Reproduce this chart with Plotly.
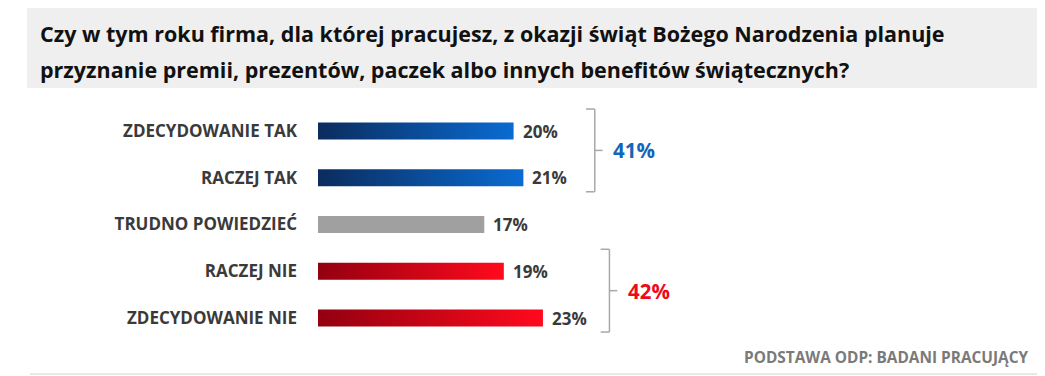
import plotly.graph_objects as go

categories = ["ZDECYDOWANIE TAK", "RACZEJ TAK", "TRUDNO POWIEDZIEĆ", "RACZEJ NIE", "ZDECYDOWANIE NIE"]
values = [20, 21, 17, 19, 23]
value_labels = ["20%", "21%", "17%", "19%", "23%"]
group_labels = ["41%", "42%"]
group_members = [[0, 1], [3, 4]]

title_lines = ["Czy w tym roku firma, dla której pracujesz, z okazji świąt Bożego Narodzenia planuje",
               "przyznanie premii, prezentów, paczek albo innych benefitów świątecznych?"]
footer_text = "PODSTAWA ODP: BADANI PRACUJĄCY"

bar_styles = [
    ("#0b2c5e", "#0a6bd2"),
    ("#0b2c5e", "#0a6bd2"),
    ("#a0a0a0", "#a0a0a0"),
    ("#930010", "#ff0a1c"),
    ("#930010", "#ff0a1c"),
]
group_colors = ["#1565b8", "#ee0a1a"]
group_offsets = [7.3, 6.8]
half_h = 0.18
FONT = "Open Sans"

# page body has an 8px margin: work in figure pixels = reference pixels - 8
W, H = 1037, 368
L, T, B = 310, 92, 36
PW, PH = W - L, H - T - B
def px(x):
    return (x - L) / PW
def py(y):
    return (H - B - y) / PH

fig = go.Figure()
for i, (cat, v) in enumerate(zip(categories, values)):
    c0, c1 = bar_styles[i]
    fig.add_trace(go.Scatter(
        x=[0, v, v, 0, 0],
        y=[i - half_h, i - half_h, i + half_h, i + half_h, i - half_h],
        mode="lines", line=dict(width=0), fill="toself",
        fillgradient=dict(type="horizontal", colorscale=[[0, c0], [1, c1]]),
        name=cat, hoverinfo="skip", showlegend=False,
    ))

annotations = []
for i, (v, lab) in enumerate(zip(values, value_labels)):
    annotations.append(dict(
        xref="x", yref="y", x=v, y=i, text=lab, showarrow=False,
        xanchor="left", yanchor="middle", xshift=7,
        font=dict(family=FONT, size=17, color="#3a3a3a", weight="bold"),
    ))

shapes = []
for g, members in enumerate(group_members):
    top = members[0] - 0.47
    bot = members[-1] + 0.30
    xb = max(values[m] for m in members) + group_offsets[g]
    mid = (top + bot) / 2
    col = "#a8a8a8"
    shapes += [
        dict(type="line", xref="x", yref="y", x0=xb, x1=xb, y0=top, y1=bot, line=dict(color=col, width=1.5)),
        dict(type="line", xref="x", yref="y", x0=xb - 0.9, x1=xb, y0=top, y1=top, line=dict(color=col, width=1.5)),
        dict(type="line", xref="x", yref="y", x0=xb - 0.9, x1=xb, y0=bot, y1=bot, line=dict(color=col, width=1.5)),
        dict(type="line", xref="x", yref="y", x0=xb, x1=xb + 0.8, y0=mid, y1=mid, line=dict(color=col, width=1.5)),
    ]
    annotations.append(dict(
        xref="x", yref="y", x=xb + 1.7, y=mid, text=group_labels[g],
        showarrow=False, xanchor="left", yanchor="middle",
        font=dict(family=FONT, size=20.5, color=group_colors[g], weight="bold"),
    ))

# title band
shapes.append(dict(type="rect", xref="paper", yref="paper", x0=px(19), x1=px(W + 2),
                   y0=py(80), y1=py(-2), fillcolor="#efefef", line=dict(width=0), layer="below"))
# footer line
shapes.append(dict(type="line", xref="paper", yref="paper", x0=px(22), x1=px(W + 2),
                   y0=py(366), y1=py(366), line=dict(color="#e8e8e8", width=2)))

for k, (line, yc) in enumerate(zip(title_lines, [25, 61])):
    annotations.append(dict(
        xref="paper", yref="paper", x=px(30), y=py(yc),
        text=line, showarrow=False, xanchor="left", yanchor="middle", align="left",
        font=dict(family=FONT, size=21.5, color="#111111", weight="bold"),
    ))
annotations.append(dict(
    xref="paper", yref="paper", x=px(1022), y=py(349),
    text=footer_text, showarrow=False, xanchor="right", yanchor="middle",
    font=dict(family=FONT, size=15.4, color="#7a7a7a", weight="bold"),
))

fig.update_layout(
    width=W, height=H,
    margin=dict(l=L, r=0, t=T, b=B),
    paper_bgcolor="white", plot_bgcolor="white",
    xaxis=dict(range=[0, PW / 9.78], visible=False, fixedrange=True),
    yaxis=dict(range=[4 + 22 / 46.75, -31 / 46.75], tickvals=list(range(len(categories))),
               ticktext=categories, showgrid=False, zeroline=False, showline=False,
               ticks="", ticklabelstandoff=20, fixedrange=True,
               tickfont=dict(family=FONT, size=17, color="#3a3a3a", weight="bold")),
    shapes=shapes, annotations=annotations,
)

fig.write_html("out.html")
